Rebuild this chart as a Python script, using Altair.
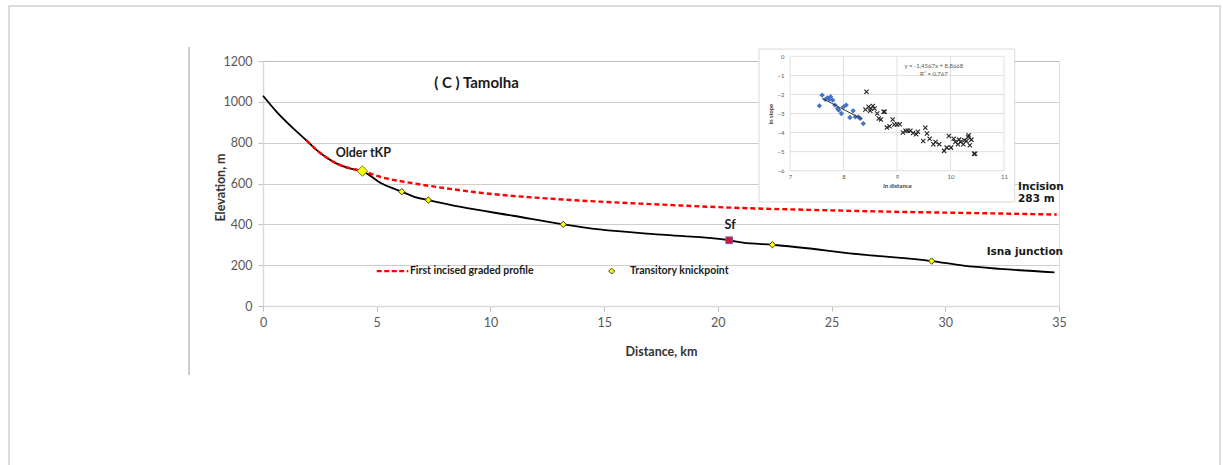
import altair as alt
import pandas as pd

# ---------------- main profile data ----------------
profile_km = [0, 0.6, 1.33, 1.9, 2.4, 3.2, 3.9, 4.37, 5.2, 6.1, 6.65, 7.27, 8.7, 11.0,
              13.2, 14.8, 17.7, 20.5, 21.1, 22.4, 26.5, 29.4, 30.8, 32.4, 34.8]
profile_elev = [1030, 951, 870, 812, 760, 700, 672, 661, 601, 560, 535, 519, 485, 442,
                400, 375, 348, 322, 310, 300, 250, 220, 198, 182, 165]

graded_km = [1.9, 2.4, 3.2, 3.9, 4.37, 5.14, 6.61, 8.08, 9.54, 11.0, 12.47, 14.82,
             17.5, 20.5, 24.0, 27.6, 32.4, 34.9]
graded_elev = [812, 760, 700, 672, 661, 633, 601, 576, 555, 539, 527, 511,
               497, 482, 471, 462, 453, 448]

knick_km = [6.1, 7.27, 13.2, 22.4, 29.4]
knick_elev = [560, 519, 400, 300, 220]
older_km = [4.37]
older_elev = [661]
sf_km = [20.5]
sf_elev = [322]

x_ticks = [0, 5, 10, 15, 20, 25, 30, 35]
y_ticks = [0, 200, 400, 600, 800, 1000, 1200]

# annotations (data coordinates)
title_lbl = {"km": 9.39, "elev": 1090, "label": "( C ) Tamolha"}
older_lbl = {"km": 4.41, "elev": 748, "label": "Older tKP"}
sf_lbl = {"km": 20.54, "elev": 397, "label": "Sf"}
incision_lbl = [{"km": 33.2, "elev": 581, "label": "Incision"},
                {"km": 33.2, "elev": 522, "label": "283 m"}]
isna_lbl = {"km": 35.18, "elev": 266, "label": "Isna junction"}

# legend (data coordinates)
legend_line_km = [5.0, 6.39]
legend_elev = 171
legend_text1 = {"km": 6.46, "elev": 171, "label": "First incised graded profile"}
legend_marker_km = [15.33]
legend_text2 = {"km": 16.14, "elev": 171, "label": "Transitory knickpoint"}

# ---------------- inset data ----------------
blue_x = [7.55, 7.60, 7.66, 7.70, 7.74, 7.76, 7.80, 7.84, 7.89, 7.91, 7.96, 8.00,
          8.05, 8.12, 8.18, 8.22, 8.28, 8.31, 8.37]
blue_y = [-2.60, -2.04, -2.26, -2.18, -2.26, -2.12, -2.30, -2.56, -2.74, -2.82, -3.00, -2.65,
          -2.56, -3.21, -2.86, -3.18, -3.18, -3.26, -3.53]
cross_x = [8.43, 8.41, 8.47, 8.50, 8.51, 8.55, 8.58, 8.63, 8.66, 8.70,
           8.75, 8.77, 8.81, 8.86, 8.92, 8.95, 9.00, 9.05, 9.11, 9.16,
           9.20, 9.25, 9.30, 9.36, 9.39, 9.49, 9.53, 9.56, 9.61, 9.68,
           9.72, 9.79, 9.88, 9.93, 9.97, 10.01, 10.06, 10.09, 10.14, 10.16,
           10.19, 10.24, 10.26, 10.30, 10.33, 10.34, 10.36, 10.39, 10.44, 10.46]
cross_y = [-1.86, -2.79, -2.65, -2.86, -2.74, -2.61, -2.74, -3.00, -3.26, -3.32,
           -2.91, -2.91, -3.74, -3.67, -3.32, -3.58, -3.58, -3.56, -4.00, -3.91,
           -3.91, -3.91, -4.02, -4.09, -3.96, -4.44, -3.75, -4.05, -4.32, -4.61,
           -4.49, -4.61, -4.96, -4.79, -4.18, -4.79, -4.32, -4.49, -4.61, -4.37,
           -4.49, -4.61, -4.40, -4.44, -4.23, -4.14, -4.67, -4.37, -5.11, -5.11]
trend_slope = -1.4567
trend_icpt = 8.8668
trend_x = [7.6, 8.35]
inset_x_ticks = [7, 8, 9, 10, 11]
inset_y_ticks = [0, -1, -2, -3, -4, -5, -6]
inset_frame_x = [6.42, 11.2]
inset_frame_y = [0.38, -7.64]
eq_lines = [{"lx": 9.69, "ly": -0.49, "label": "y = -1,4567x + 8,8668"},
            {"lx": 9.69, "ly": -0.93, "label": "R² = 0,767"}]

# ---------------- scales / axes ----------------
XM = alt.Scale(domain=[0, 35], nice=False, zero=False)
YM = alt.Scale(domain=[0, 1200], nice=False, zero=False)
x_axis = alt.Axis(values=x_ticks, format="d", labelFlush=False, grid=False,
                  domainColor="#d9d9d9", domainWidth=1.5,
                  tickColor="#bfbfbf", tickSize=5, labelFontSize=12.5, labelColor="#595959",
                  labelPadding=5, labelFont="Lato", title="Distance, km", titleFont="Lato",
                  titleFontSize=12.5, titleFontWeight="bold", titleColor="#333333",
                  titleX=398, titleY=45, titleBaseline="middle", titleAlign="center")
y_axis = alt.Axis(values=y_ticks, format="d", labelFlush=False, grid=True, gridDash=[1, 1],
                  gridColor="#9a9a9a",
                  domainColor="#d9d9d9", domainWidth=1.5, tickColor="#bfbfbf", tickSize=5,
                  labelFontSize=12.5, labelColor="#595959", labelPadding=6, labelFont="Lato",
                  title="Elevation, m", titleFont="Lato", titleFontSize=12.5,
                  titleFontWeight="bold", titleColor="#333333", titleAngle=-90,
                  titleX=-43, titleY=126, titleBaseline="middle", titleAlign="center")


def X():
    return alt.X("km:Q", scale=XM, axis=x_axis)


def Y():
    return alt.Y("elev:Q", scale=YM, axis=y_axis)


XI = alt.Scale(domain=[7, 11], range=[527, 741], nice=False, zero=False)
YI = alt.Scale(domain=[-6, 0], range=[109.7, -4.7], nice=False, zero=False)
xi_axis = alt.Axis(orient="bottom", offset=-135.3, values=inset_x_ticks, grid=False,
                   labelFlush=False, domain=False, ticks=False, labelFontSize=6,
                   labelColor="#595959", labelPadding=3, labelFont="Lato",
                   title="ln distance", titleFontSize=6, titleFontWeight="bold",
                   titleColor="#404040", titlePadding=3, titleFont="Lato", zindex=1)
yi_axis = alt.Axis(orient="left", offset=-527, values=inset_y_ticks, grid=False,
                   labelFlush=False, domain=False, ticks=False, labelFontSize=6,
                   labelColor="#595959", labelPadding=6, labelFont="Lato",
                   title="ln slope", titleFontSize=6, titleFontWeight="bold",
                   titleColor="#404040", titlePadding=4, titleFont="Lato", zindex=1)


def XIn():
    return alt.X("lx:Q", scale=XI, axis=xi_axis)


def YIn():
    return alt.Y("ly:Q", scale=YI, axis=yi_axis)


# ---------------- main layers ----------------
one = pd.DataFrame({"a": [0]})
border = alt.Chart(one).mark_rect(fill="transparent", stroke="#d0d0d0", strokeWidth=1.5).encode(
    x=alt.value(-254), x2=alt.value(957), y=alt.value(-55), y2=alt.value(420))
vline = alt.Chart(one).mark_rule(color="#bdbdbd", strokeWidth=1.5).encode(
    x=alt.value(-74), y=alt.value(-14), y2=alt.value(314))

prof_df = pd.DataFrame({"km": profile_km, "elev": profile_elev})
profile = alt.Chart(prof_df).mark_line(color="black", strokeWidth=1.8, interpolate="monotone").encode(
    x=X(), y=Y())
grad_df = pd.DataFrame({"km": graded_km, "elev": graded_elev})
graded = alt.Chart(grad_df).mark_line(color="#ff0000", strokeWidth=2.4, strokeDash=[5, 3],
                                      interpolate="monotone").encode(x=X(), y=Y())

knick = alt.Chart(pd.DataFrame({"km": knick_km, "elev": knick_elev})).mark_point(
    shape="diamond", filled=True, fill="#ffff00", stroke="#3a3a10", strokeWidth=1, size=40, opacity=1
).encode(x=X(), y=Y())
older = alt.Chart(pd.DataFrame({"km": older_km, "elev": older_elev})).mark_point(
    shape="diamond", filled=True, fill="#ffff00", stroke="#7a7a20", strokeWidth=1, size=110, opacity=1
).encode(x=X(), y=Y())
sf = alt.Chart(pd.DataFrame({"km": sf_km, "elev": sf_elev})).mark_point(
    shape="square", filled=True, fill="#e0102a", stroke="#7060a8", strokeWidth=1, size=45, opacity=1
).encode(x=X(), y=Y())


def text_layer(rows, size, align="center", font="Lato", weight="bold", color="#1a1a1a"):
    df = pd.DataFrame(rows if isinstance(rows, list) else [rows])
    return alt.Chart(df).mark_text(fontSize=size, align=align, baseline="middle", font=font,
                                   fontWeight=weight, color=color).encode(
        x=X(), y=Y(), text="label:N")


t_title = text_layer(title_lbl, 15)
t_older = text_layer(older_lbl, 12.5)
t_sf = text_layer(sf_lbl, 12.5)
t_inc = text_layer(incision_lbl, 10.5, align="left", font="DejaVu Sans")
t_isna = text_layer(isna_lbl, 10.5, align="right", font="DejaVu Sans")

leg_line = alt.Chart(pd.DataFrame({"km": legend_line_km, "elev": [legend_elev] * 2})).mark_line(
    color="#ff0000", strokeWidth=2.4, strokeDash=[5, 2.5]).encode(x=X(), y=Y())
leg_t1 = text_layer(legend_text1, 10.5, align="left")
leg_marker = alt.Chart(pd.DataFrame({"km": legend_marker_km, "elev": [legend_elev]})).mark_point(
    shape="diamond", filled=True, fill="#ffff00", stroke="#3a3a10", strokeWidth=1, size=35, opacity=1
).encode(x=X(), y=Y())
leg_t2 = text_layer(legend_text2, 10.5, align="left")

main = alt.layer(border, vline, profile, graded, knick, older, sf,
                 t_title, t_older, t_sf, t_inc, t_isna, leg_line, leg_t1, leg_marker, leg_t2)

# ---------------- inset layers ----------------
frame = alt.Chart(pd.DataFrame({"lx": [inset_frame_x[0]], "lx2": [inset_frame_x[1]],
                                "ly": [inset_frame_y[0]], "ly2": [inset_frame_y[1]]})).mark_rect(
    fill="white", stroke="#d9d9d9", strokeWidth=1).encode(x=XIn(), x2="lx2:Q", y=YIn(), y2="ly2:Q")
vgrid = alt.Chart(pd.DataFrame({"lx": inset_x_ticks, "ly": [inset_y_ticks[0]] * len(inset_x_ticks),
                                "ly2": [inset_y_ticks[-1]] * len(inset_x_ticks)})).mark_rule(
    color="#e0e0e0", strokeWidth=1).encode(x=XIn(), y=YIn(), y2="ly2:Q")
hgrid = alt.Chart(pd.DataFrame({"ly": inset_y_ticks, "lx": [inset_x_ticks[0]] * len(inset_y_ticks),
                                "lx2": [inset_x_ticks[-1]] * len(inset_y_ticks)})).mark_rule(
    color="#e0e0e0", strokeWidth=1).encode(x=XIn(), x2="lx2:Q", y=YIn())
blue = alt.Chart(pd.DataFrame({"lx": blue_x, "ly": blue_y})).mark_point(
    shape="diamond", filled=True, color="#4472c4", size=28, opacity=1).encode(x=XIn(), y=YIn())
cross = alt.Chart(pd.DataFrame({"lx": cross_x, "ly": cross_y})).mark_point(
    shape="M-1,-1L1,1M-1,1L1,-1", filled=False, color="#262626", strokeWidth=1.1, size=18,
    opacity=1).encode(x=XIn(), y=YIn())
trend = alt.Chart(pd.DataFrame({"lx": trend_x,
                                "ly": [trend_slope * v + trend_icpt for v in trend_x]})).mark_line(
    color="#303030", strokeWidth=1).encode(x=XIn(), y=YIn())
eq = alt.Chart(pd.DataFrame(eq_lines)).mark_text(fontSize=6, font="Lato", color="#595959",
                                                 align="center", baseline="middle").encode(
    x=XIn(), y=YIn(), text="label:N")

inset = alt.layer(frame, vgrid, hgrid, blue, cross, trend, eq)

chart = alt.layer(main, inset).resolve_scale(x="independent", y="independent").properties(
    width=796, height=245,
    padding={"left": 263, "top": 61, "right": 164, "bottom": 159},
    autosize=alt.AutoSizeParams(type="none"),
).configure_view(stroke=None).configure(background="white")

chart.save("out.html", embed_options={"renderer": "svg", "actions": False})
